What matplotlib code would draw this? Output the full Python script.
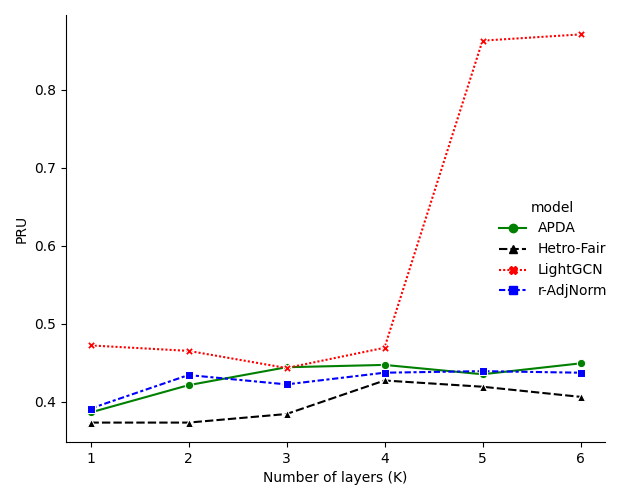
import matplotlib
matplotlib.use("Agg")
import matplotlib.pyplot as plt
import pandas as pd
import seaborn as sns
from matplotlib.lines import Line2D

layers = [1, 2, 3, 4, 5, 6]
models = ["APDA", "Hetro-Fair", "LightGCN", "r-AdjNorm"]
apda = [0.386, 0.421, 0.444, 0.447, 0.435, 0.449]
hetro_fair = [0.373, 0.373, 0.384, 0.427, 0.419, 0.406]
lightgcn = [0.472, 0.465, 0.443, 0.469, 0.863, 0.871]
r_adjnorm = [0.391, 0.434, 0.422, 0.437, 0.439, 0.437]

series = [apda, hetro_fair, lightgcn, r_adjnorm]
rows = []
for name, vals in zip(models, series):
    for k, v in zip(layers, vals):
        rows.append({"K": k, "PRU": v, "model": name})
df = pd.DataFrame(rows)

palette = {"APDA": "green", "Hetro-Fair": "black", "LightGCN": "red", "r-AdjNorm": "blue"}
markers = {"APDA": "o", "Hetro-Fair": "^", "LightGCN": "X", "r-AdjNorm": "s"}
dashes = {"APDA": "", "Hetro-Fair": (4, 1.5), "LightGCN": (1, 1), "r-AdjNorm": (3, 1.25, 1.5, 1.25)}

fig, ax = plt.subplots(figsize=(6.19, 5.0), dpi=100)
sns.lineplot(data=df, x="K", y="PRU", hue="model", style="model",
             palette=palette, markers=markers, dashes=dashes, ax=ax, legend=False)

ax.set_xlabel("Number of layers (K)")
ax.set_ylabel("PRU")
sns.despine(ax=ax)

# legend handles: markers without the white edge, like older seaborn
handles = []
for m in models:
    h = Line2D([], [], color=palette[m], marker=markers[m], markersize=6, lw=1.5,
               markeredgecolor=palette[m], label=m)
    if dashes[m]:
        h.set_dashes(dashes[m])
    handles.append(h)
ax.legend(handles=handles, title="model", loc="center right",
          bbox_to_anchor=(1.027, 0.451), frameon=False)

fig.subplots_adjust(left=66 / 619, right=605 / 619, bottom=1 - 442 / 500, top=1 - 15 / 500)
fig.savefig("out.png", dpi=100)
